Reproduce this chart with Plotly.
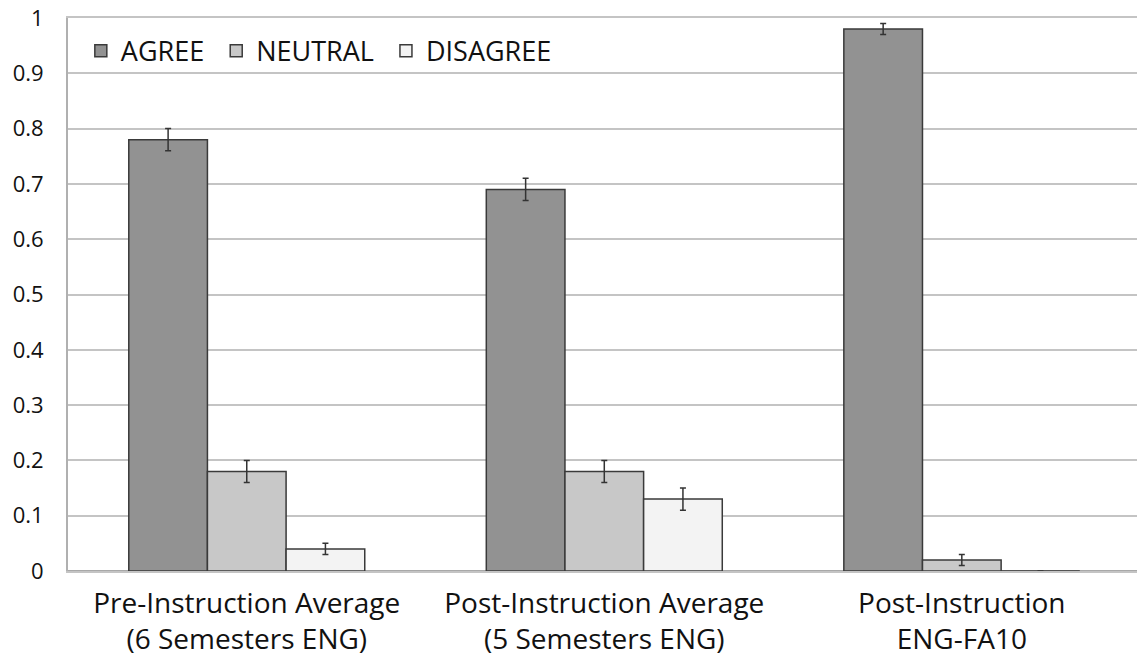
import plotly.graph_objects as go

categories = ["Pre-Instruction Average<br>(6 Semesters ENG)",
              "Post-Instruction Average<br>(5 Semesters ENG)",
              "Post-Instruction<br>ENG-FA10"]
agree = [0.78, 0.69, 0.98]
agree_err = [0.02, 0.02, 0.01]
neutral = [0.18, 0.18, 0.02]
neutral_err = [0.02, 0.02, 0.01]
disagree = [0.04, 0.13, 0.0]
disagree_err = [0.01, 0.02, 0.0]
y_ticks = [0, 0.1, 0.2, 0.3, 0.4, 0.5, 0.6, 0.7, 0.8, 0.9, 1]
y_tick_labels = ["0", "0.1", "0.2", "0.3", "0.4", "0.5", "0.6", "0.7", "0.8", "0.9", "1"]

series = [("AGREE\u00a0", agree, agree_err, "#929292"),
          ("NEUTRAL\u00a0", neutral, neutral_err, "#c8c8c8"),
          ("DISAGREE", disagree, disagree_err, "#f3f3f3")]

fig = go.Figure()
for name, vals, errs, color in series:
    fig.add_trace(go.Bar(
        name=name, x=categories, y=vals,
        marker=dict(color=color, line=dict(color="#3a3a3a", width=1.5)),
        error_y=dict(type="data", array=errs, color="#333333", thickness=1.5, width=3),
    ))

fig.update_layout(
    width=1137, height=658,
    barmode="group", bargap=0.34, bargroupgap=0,
    plot_bgcolor="white", paper_bgcolor="white",
    margin=dict(l=68, r=0, t=18, b=87),
    font=dict(family="Open Sans", color="#111111"),
    legend=dict(orientation="h", x=0.012, y=0.94, xanchor="left", yanchor="middle",
                font=dict(size=27, family="Open Sans", color="#111111"),
                bgcolor="rgba(0,0,0,0)",
                itemwidth=30, tracegroupgap=0),
    xaxis=dict(range=[-0.5, 2.49], showgrid=False, ticks="",
               showline=True, mirror=True, linecolor="#c4c4c4", linewidth=2,
               automargin=False, ticklabelstandoff=6,
               tickfont=dict(size=28, family="Open Sans", color="#111111")),
    yaxis=dict(range=[0, 1], tickvals=y_ticks, ticktext=y_tick_labels,
               automargin=False, ticklabeloverflow="allow",
               showgrid=True, gridcolor="#c4c4c4", gridwidth=2,
               showline=True, linecolor="#b0b0b0", linewidth=2,
               zeroline=True, zerolinecolor="#a8a8a8", zerolinewidth=2,
               ticks="", ticklabelstandoff=18,
               tickfont=dict(size=22, family="Open Sans", color="#111111")),
)

fig.write_html("out.html", config={"displayModeBar": False},
               post_script="document.body.style.margin='0';")
